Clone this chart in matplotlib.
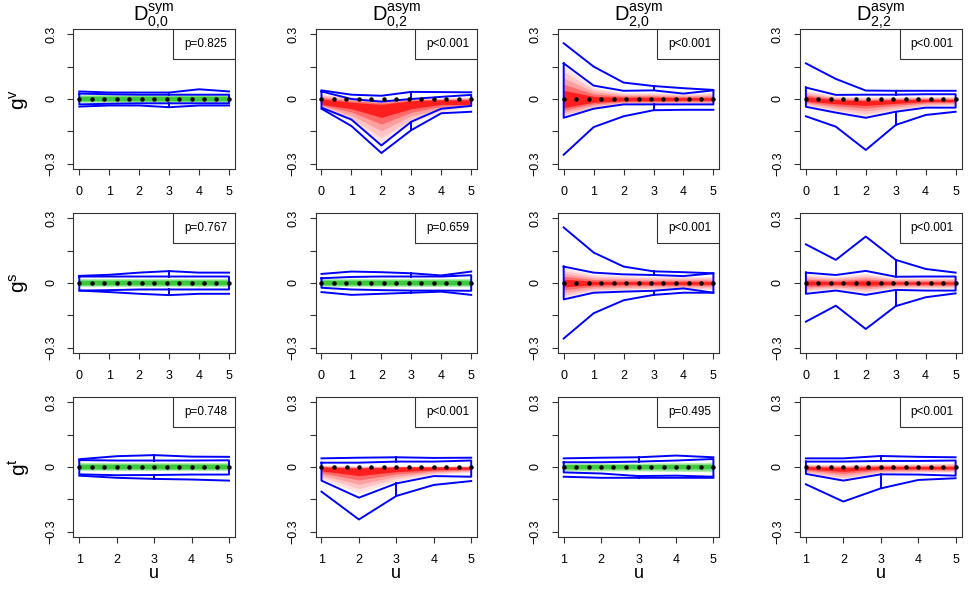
import numpy as np
import matplotlib
matplotlib.use("Agg")
import matplotlib.pyplot as plt
from matplotlib.patches import Rectangle

plt.rcParams['font.family'] = ['Liberation Sans', 'DejaVu Sans']
plt.rcParams['mathtext.fontset'] = 'custom'
plt.rcParams['mathtext.rm'] = 'Liberation Sans'
plt.rcParams['mathtext.it'] = 'Liberation Sans:italic'
plt.rcParams['mathtext.default'] = 'rm'

# column titles and row labels
titles = [r'$D^{sym}_{0{,}0}$', r'$D^{asym}_{0{,}2}$', r'$D^{asym}_{2{,}0}$', r'$D^{asym}_{2{,}2}$']
row_labels = [r'$g^{v}$', r'$g^{s}$', r'$g^{t}$']

u_top = [0, 1, 2, 3, 4, 5]
u_bot = [1, 2, 3, 4, 5]
dot_u_top = [0, 0.42, 0.83, 1.25, 1.67, 2.08, 2.5, 2.92, 3.33, 3.75, 4.17, 4.58, 5]
dot_u_bot = [1, 1.33, 1.67, 2, 2.33, 2.67, 3, 3.33, 3.67, 4, 4.33, 4.67, 5]
dot_vals = [0, 0, 0, 0, 0, 0, 0, 0, 0, 0, 0, 0, 0]

# p-values (rows v, s, t ; columns)
p_v = ['p=0.825', 'p<0.001', 'p<0.001', 'p<0.001']
p_s = ['p=0.767', 'p=0.659', 'p<0.001', 'p<0.001']
p_t = ['p=0.748', 'p<0.001', 'p=0.495', 'p<0.001']
signif_v = [False, True, True, True]
signif_s = [False, False, True, True]
signif_t = [False, True, False, True]

# ---- row g^v : blue envelope lines (upper outer, upper inner, lower inner, lower outer)
uo_v = [[0.035, 0.03, 0.03, 0.03, 0.045, 0.035],
        [0.04, 0.02, 0.015, 0.033, 0.032, 0.031],
        [0.258, 0.15, 0.076, 0.06, 0.05, 0.042],
        [0.165, 0.093, 0.039, 0.038, 0.038, 0.038]]
ui_v = [[0.025, 0.022, 0.02, 0.02, 0.02, 0.02],
        [0.035, 0.0, -0.012, 0.0, 0.01, 0.019],
        [0.165, 0.062, 0.038, 0.04, 0.025, 0.04],
        [0.053, 0.019, 0.02, 0.02, 0.022, 0.022]]
li_v = [[-0.025, -0.022, -0.02, -0.02, -0.02, -0.02],
        [-0.04, -0.095, -0.215, -0.105, -0.045, -0.032],
        [-0.087, -0.045, -0.025, -0.025, -0.025, -0.025],
        [-0.036, -0.063, -0.087, -0.059, -0.04, -0.04]]
lo_v = [[-0.035, -0.03, -0.03, -0.038, -0.03, -0.03],
        [-0.045, -0.125, -0.25, -0.144, -0.066, -0.059],
        [-0.258, -0.13, -0.08, -0.052, -0.05, -0.05],
        [-0.08, -0.128, -0.236, -0.12, -0.074, -0.059]]
# shading: outer extent and darkest core
sh_hi_v = [[0.018, 0.018, 0.018, 0.018, 0.018, 0.018],
           [0.025, 0.01, 0.0, 0.005, 0.005, 0.01],
           [0.155, 0.055, 0.03, 0.03, 0.025, 0.03],
           [0.04, 0.015, 0.01, 0.01, 0.012, 0.012]]
sh_lo_v = [[-0.018, -0.018, -0.018, -0.018, -0.018, -0.018],
           [-0.04, -0.105, -0.21, -0.11, -0.06, -0.035],
           [-0.085, -0.045, -0.025, -0.025, -0.025, -0.025],
           [-0.03, -0.06, -0.08, -0.055, -0.035, -0.03]]
co_hi_v = [[0.008, 0.008, 0.008, 0.008, 0.008, 0.008],
           [0.0, -0.015, -0.025, -0.008, -0.004, -0.004],
           [0.04, 0.012, 0.008, 0.008, 0.006, 0.006],
           [0.01, -0.003, -0.008, -0.003, -0.002, -0.002]]
co_lo_v = [[-0.008, -0.008, -0.008, -0.008, -0.008, -0.008],
           [-0.025, -0.045, -0.085, -0.045, -0.025, -0.025],
           [-0.04, -0.015, -0.008, -0.008, -0.006, -0.006],
           [-0.01, -0.022, -0.03, -0.02, -0.012, -0.012]]

# ---- row g^s
uo_s = [[0.033, 0.038, 0.048, 0.055, 0.048, 0.048],
        [0.042, 0.053, 0.05, 0.045, 0.035, 0.053],
        [0.257, 0.141, 0.076, 0.054, 0.05, 0.045],
        [0.179, 0.107, 0.215, 0.107, 0.065, 0.048]]
ui_s = [[0.03, 0.03, 0.03, 0.03, 0.03, 0.03],
        [0.022, 0.028, 0.03, 0.03, 0.03, 0.036],
        [0.076, 0.048, 0.04, 0.037, 0.032, 0.045],
        [0.048, 0.037, 0.056, 0.029, 0.03, 0.03]]
li_s = [[-0.035, -0.033, -0.03, -0.03, -0.03, -0.03],
        [-0.022, -0.03, -0.033, -0.035, -0.035, -0.036],
        [-0.076, -0.045, -0.04, -0.036, -0.025, -0.045],
        [-0.05, -0.035, -0.055, -0.032, -0.035, -0.035]]
lo_s = [[-0.035, -0.042, -0.05, -0.056, -0.05, -0.05],
        [-0.042, -0.055, -0.05, -0.045, -0.04, -0.055],
        [-0.257, -0.14, -0.08, -0.055, -0.045, -0.045],
        [-0.179, -0.105, -0.213, -0.107, -0.066, -0.048]]
sh_hi_s = [[0.018, 0.018, 0.018, 0.018, 0.018, 0.018],
           [0.018, 0.018, 0.018, 0.018, 0.018, 0.018],
           [0.07, 0.04, 0.035, 0.03, 0.03, 0.03],
           [0.04, 0.03, 0.045, 0.025, 0.025, 0.025]]
sh_lo_s = [[-0.018, -0.018, -0.018, -0.018, -0.018, -0.018],
           [-0.018, -0.018, -0.018, -0.018, -0.018, -0.018],
           [-0.07, -0.04, -0.035, -0.03, -0.03, -0.03],
           [-0.04, -0.03, -0.045, -0.025, -0.025, -0.025]]
co_hi_s = [[0.008, 0.008, 0.008, 0.008, 0.008, 0.008],
           [0.007, 0.007, 0.007, 0.007, 0.007, 0.007],
           [0.018, 0.008, 0.006, 0.006, 0.006, 0.006],
           [0.01, 0.006, 0.01, 0.005, 0.005, 0.005]]
co_lo_s = [[-0.008, -0.008, -0.008, -0.008, -0.008, -0.008],
           [-0.007, -0.007, -0.007, -0.007, -0.007, -0.007],
           [-0.018, -0.008, -0.006, -0.006, -0.006, -0.006],
           [-0.01, -0.006, -0.01, -0.005, -0.005, -0.005]]

# ---- row g^t (u = 1..5)
uo_t = [[0.036, 0.05, 0.055, 0.048, 0.047],
        [0.04, 0.043, 0.045, 0.042, 0.043],
        [0.04, 0.043, 0.045, 0.053, 0.045],
        [0.04, 0.04, 0.051, 0.047, 0.045]]
ui_t = [[0.032, 0.03, 0.03, 0.03, 0.031],
        [0.02, 0.02, 0.025, 0.025, 0.03],
        [0.022, 0.022, 0.025, 0.03, 0.037],
        [0.025, 0.025, 0.028, 0.028, 0.03]]
li_t = [[-0.034, -0.038, -0.037, -0.035, -0.035],
        [-0.063, -0.142, -0.076, -0.042, -0.045],
        [-0.025, -0.03, -0.042, -0.04, -0.045],
        [-0.032, -0.063, -0.034, -0.035, -0.04]]
lo_t = [[-0.04, -0.05, -0.055, -0.058, -0.063],
        [-0.114, -0.243, -0.134, -0.083, -0.065],
        [-0.045, -0.05, -0.05, -0.05, -0.05],
        [-0.08, -0.16, -0.099, -0.06, -0.052]]
sh_hi_t = [[0.018, 0.018, 0.018, 0.018, 0.018],
           [0.01, 0.005, 0.005, 0.005, 0.005],
           [0.018, 0.018, 0.018, 0.02, 0.022],
           [0.015, 0.01, 0.015, 0.015, 0.02]]
sh_lo_t = [[-0.018, -0.018, -0.018, -0.018, -0.018],
           [-0.055, -0.12, -0.065, -0.035, -0.025],
           [-0.018, -0.018, -0.018, -0.02, -0.022],
           [-0.03, -0.058, -0.03, -0.025, -0.025]]
co_hi_t = [[0.008, 0.008, 0.008, 0.008, 0.008],
           [0.0, -0.005, 0.0, 0.0, 0.0],
           [0.008, 0.008, 0.008, 0.008, 0.008],
           [0.002, -0.002, 0.002, 0.002, 0.002]]
co_lo_t = [[-0.008, -0.008, -0.008, -0.008, -0.008],
           [-0.018, -0.04, -0.022, -0.013, -0.01],
           [-0.008, -0.008, -0.008, -0.008, -0.008],
           [-0.01, -0.02, -0.009, -0.009, -0.009]]

red_cols = ['#ffe2e2', '#ffc4c4', '#ffa0a0', '#ff6a6a', '#ff1e1e']
green_cols = ['#b4ebb4', '#78dc78', '#3cc83c']

rows = [
    (u_top, dot_u_top, p_v, signif_v, uo_v, ui_v, li_v, lo_v, sh_hi_v, sh_lo_v, co_hi_v, co_lo_v),
    (u_top, dot_u_top, p_s, signif_s, uo_s, ui_s, li_s, lo_s, sh_hi_s, sh_lo_s, co_hi_s, co_lo_s),
    (u_bot, dot_u_bot, p_t, signif_t, uo_t, ui_t, li_t, lo_t, sh_hi_t, sh_lo_t, co_hi_t, co_lo_t),
]

W, H = 969, 596
fig = plt.figure(figsize=(W / 100, H / 100), dpi=100)

col_left = [73.3, 315.5, 557.7, 799.9]
row_top = [29, 213, 397]
pw, ph = 161.7, 140

blue = '#0000ff'

for r, (u, du, pv, sig, uo, ui, li, lo, shi, slo, chi, clo) in enumerate(rows):
    for c in range(4):
        ax = fig.add_axes([col_left[c] / W, (H - row_top[r] - ph) / H, pw / W, ph / H])
        x = np.array(u, dtype=float)
        # shading layers, from lightest to darkest
        cols = red_cols if sig[c] else green_cols
        n = len(cols)
        for k, col in enumerate(cols):
            t = k / (n - 1)
            hi = (1 - t) * np.array(shi[c]) + t * np.array(chi[c])
            lo_ = (1 - t) * np.array(slo[c]) + t * np.array(clo[c])
            ax.fill_between(x, lo_, hi, color=col, lw=0, zorder=1)
        # inner polygon
        px = list(u) + list(u[::-1]) + [u[0]]
        py = list(ui[c]) + list(li[c][::-1]) + [ui[c][0]]
        ax.plot(px, py, color=blue, lw=1.4, zorder=2)
        ax.plot(u, uo[c], color=blue, lw=1.4, zorder=2)
        ax.plot(u, lo[c], color=blue, lw=1.4, zorder=2)
        i3 = u.index(3)
        ax.plot([3, 3], [uo[c][i3], ui[c][i3]], color=blue, lw=1.4, zorder=2)
        ax.plot([3, 3], [li[c][i3], lo[c][i3]], color=blue, lw=1.4, zorder=2)
        ax.plot(du, dot_vals, 'o', color='black', ms=2.2, zorder=3)

        rng = u[-1] - u[0]
        ax.set_xlim(u[0] - 0.04 * rng, u[-1] + 0.04 * rng)
        ax.set_ylim(-0.324, 0.324)
        ax.set_xticks(u)
        ax.set_xticklabels([str(v) for v in u], fontsize=9)
        ax.set_yticks([-0.3, -0.15, 0, 0.15, 0.3])
        ax.set_yticklabels(['\u22120.3', '', '0', '', '0.3'], fontsize=9,
                           rotation=90, va='center')
        ax.tick_params(length=4.5, width=0.8, color='#333333')
        ax.tick_params(axis='x', pad=8)
        ax.tick_params(axis='y', pad=7)
        for sp in ax.spines.values():
            sp.set_linewidth(0.8)
            sp.set_color('#333333')

        bw, bh = 62 / pw, 30 / ph
        ax.add_patch(Rectangle((1 - bw, 1 - bh), bw, bh, transform=ax.transAxes,
                               facecolor='white', edgecolor='#333333', lw=0.8, zorder=4))
        ax.text(1 - bw + 11 / pw, 1 - bh / 2, pv[c], transform=ax.transAxes,
                ha='left', va='center', fontsize=8.5, zorder=5)

        cx = (col_left[c] + pw / 2) / W
        if r == 0:
            fig.text(cx, (H - 21.5) / H, titles[c], ha='center', va='baseline', fontsize=14.5)
        if r == 2:
            fig.text(cx, (H - 573) / H, 'u', ha='center', va='center', fontsize=13)
    fig.text(19 / W, (H - row_top[r] - ph / 2) / H, row_labels[r], rotation=90,
             ha='center', va='center', fontsize=15)

fig.savefig('out.png', dpi=100)
